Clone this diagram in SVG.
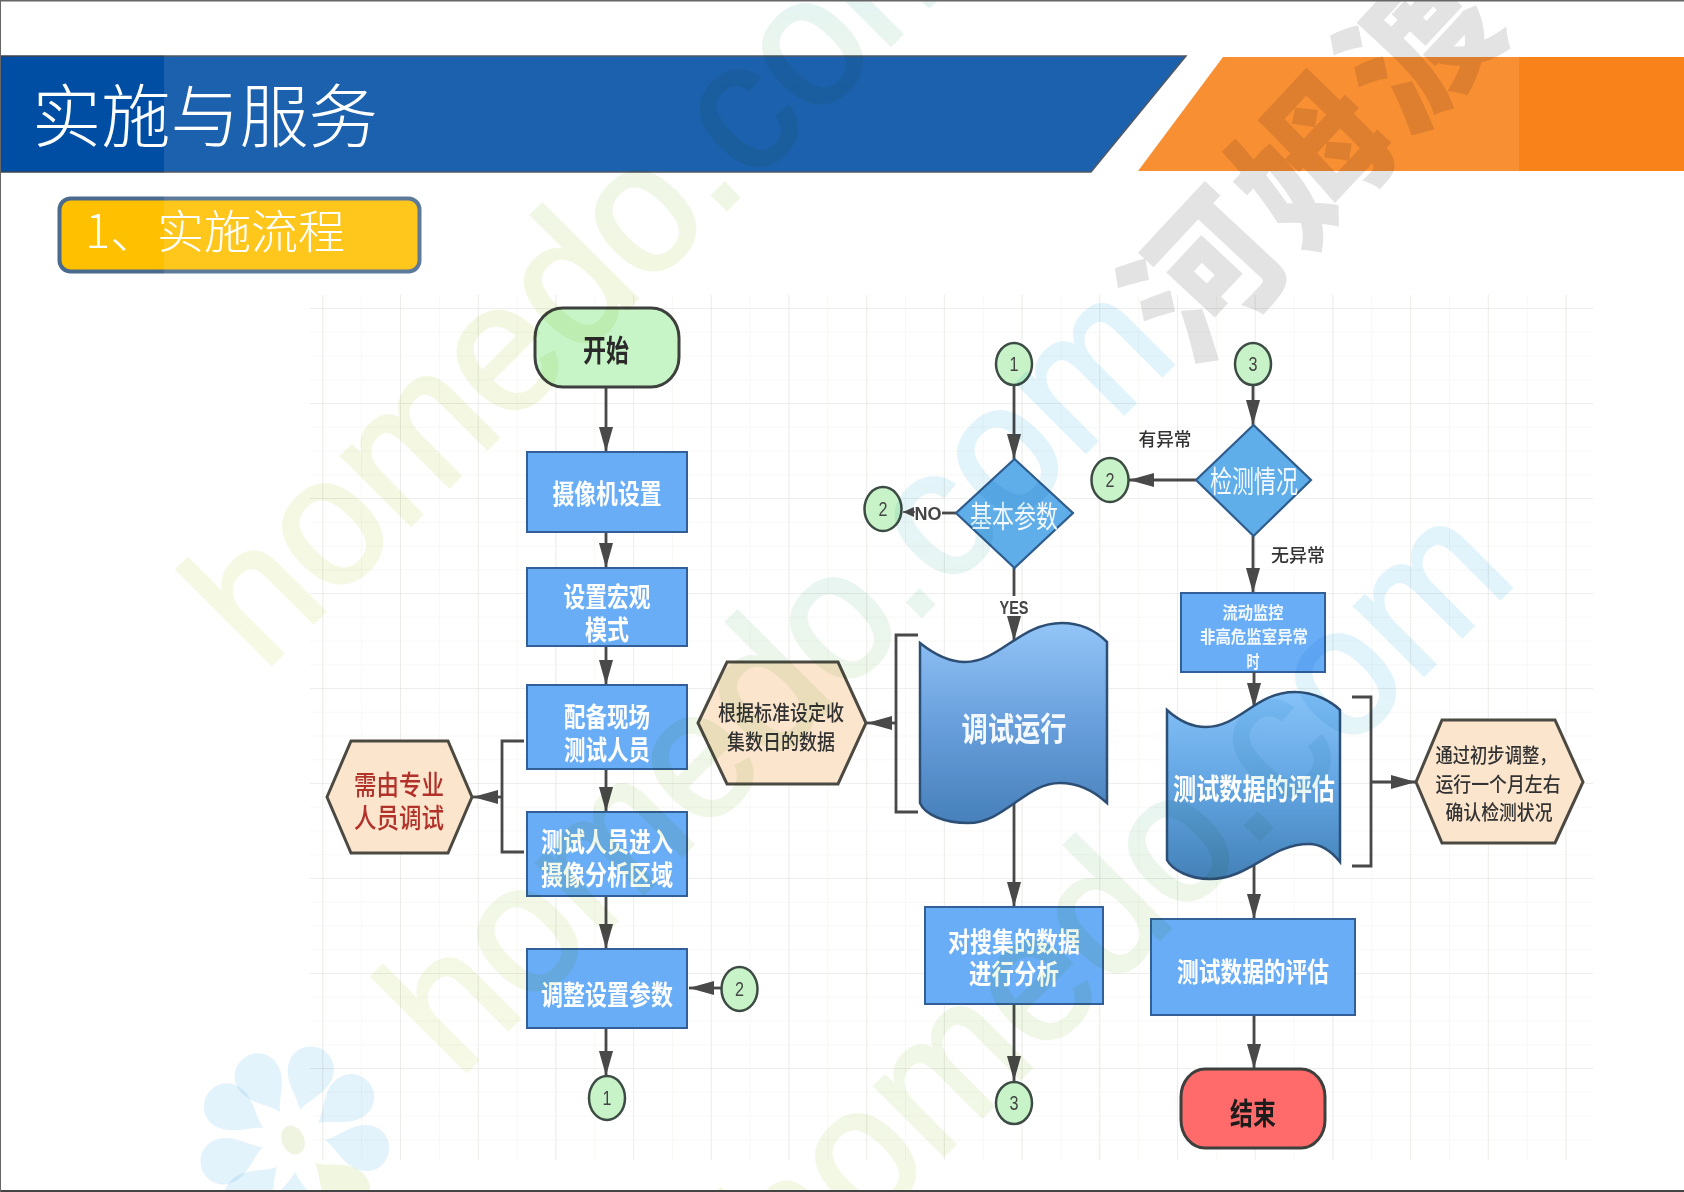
<svg xmlns="http://www.w3.org/2000/svg" width="1684" height="1192" viewBox="0 0 1684 1192">
<style>
text{font-family:"Noto Sans CJK SC","Noto Sans",sans-serif;text-anchor:middle}
.box{fill:#69adf6;stroke:#335f98;stroke-width:2}
.dia{fill:#5fade9;stroke:#2f5c8c;stroke-width:2.2}
.cir{fill:#c8f3c8;stroke:#3c4c44;stroke-width:2.5}
.hex{fill:#fbe5cd;stroke:#4c4a42;stroke-width:3}
.term{stroke:#3c403c;stroke-width:3}
.w{fill:#fff;font-weight:700;font-size:27px}
.wr{fill:#f4f9ff;font-weight:400;font-size:30px}
.d{fill:#333;font-weight:500;font-size:21px}
.b{fill:#2a2a2a;font-weight:700;font-size:30px}
.n{fill:#444;font-size:20px;font-family:"Liberation Sans",sans-serif}
.l{fill:#333;font-weight:500;font-size:18px}
.con{fill:none;stroke:#484848;stroke-width:2.8}
.arr{marker-end:url(#ah)}
.wm{font-family:"Liberation Sans",sans-serif;font-size:185px;text-anchor:start;stroke-width:3;mix-blend-mode:multiply}
.pt{fill:#e3f3fb;mix-blend-mode:multiply}
</style>
<defs>
<marker id="ah" markerUnits="userSpaceOnUse" markerWidth="26" markerHeight="16" refX="25" refY="8" orient="auto"><path d="M0 1 L25 8 L0 15 Z" fill="#484848"/></marker>
<marker id="ahs" markerUnits="userSpaceOnUse" markerWidth="12" markerHeight="10" refX="11" refY="5" orient="auto"><path d="M0 0 L11 5 L0 10 Z" fill="#484848"/></marker>
<linearGradient id="doc1" x1="0" y1="0" x2="0" y2="1"><stop offset="0" stop-color="#93c5f7"/><stop offset=".5" stop-color="#689fdc"/><stop offset="1" stop-color="#4780bb"/></linearGradient>
<linearGradient id="doc2" x1="0" y1="0" x2="0" y2="1"><stop offset="0" stop-color="#86c2f8"/><stop offset=".5" stop-color="#62a5e2"/><stop offset="1" stop-color="#4481b8"/></linearGradient>
<linearGradient id="wg1" gradientUnits="userSpaceOnUse" x1="263" y1="673" x2="985" y2="-50"><stop offset="0" stop-color="#f6f9e4"/><stop offset=".4" stop-color="#f2f7e2"/><stop offset=".62" stop-color="#e9f5ee"/><stop offset=".75" stop-color="#dcf4fd"/><stop offset="1" stop-color="#dcf4fd"/></linearGradient>
<linearGradient id="wg2" gradientUnits="userSpaceOnUse" x1="458" y1="1080" x2="1180" y2="358"><stop offset="0" stop-color="#f6f9e4"/><stop offset=".4" stop-color="#edf6e9"/><stop offset=".6" stop-color="#e2f4fb"/><stop offset="1" stop-color="#e0f3fb"/></linearGradient>
<linearGradient id="wg3" gradientUnits="userSpaceOnUse" x1="796" y1="1303" x2="1519" y2="580"><stop offset="0" stop-color="#f6f9e4"/><stop offset=".4" stop-color="#edf6e8"/><stop offset=".6" stop-color="#e2f4fb"/><stop offset="1" stop-color="#e0f3fb"/></linearGradient>
<pattern id="gm" patternUnits="userSpaceOnUse" x="322.3" y="308" width="77.7" height="95"><path d="M0 0V95M0 0H77.7" stroke="#e4e4e2" stroke-width="1.2" fill="none"/></pattern>
<pattern id="gs" patternUnits="userSpaceOnUse" x="322.3" y="308" width="38.85" height="23.75"><path d="M0 0V23.75M0 0H38.85" stroke="#f2f2f0" stroke-width="1" fill="none"/></pattern>
<filter id="soft" filterUnits="userSpaceOnUse" x="0" y="0" width="1684" height="1192"><feGaussianBlur stdDeviation="0.6"/></filter>
<path id="petal" d="M0 0C13 -6 24 -23 42 -23C56 -23 65 -12 65 0C65 12 56 23 42 23C24 23 13 6 0 0Z"/>
</defs>

<rect width="1684" height="1192" fill="#fff"/>

<g id="header">
<polygon points="0,56 1186,56 1091,172 0,172" fill="#004ea3" stroke="#3c4450" stroke-width="1.5"/>
<polygon points="1223,57 1684,57 1684,171 1138,171" fill="#f9821a"/>
</g>
<g id="section-box">
<rect x="59.500" y="198.500" width="360" height="73" rx="11" fill="#ffc000" stroke="#4a6a8e" stroke-width="4"/>
</g>
<rect id="band" x="164" y="50" width="1355" height="225" fill="#fff" opacity=".11"/>
<text x="205" y="142" font-size="69" font-weight="300" fill="#fff" textLength="346" lengthAdjust="spacingAndGlyphs">实施与服务</text>
<text x="215" y="248" font-size="46" font-weight="300" fill="#fff" textLength="260" lengthAdjust="spacingAndGlyphs">1、实施流程</text>

<g id="grid"><rect x="310" y="295" width="1283" height="865" fill="url(#gs)"/><rect x="310" y="295" width="1283" height="865" fill="url(#gm)"/></g>

<g filter="url(#soft)">
<g id="connectors">
<path class="con arr" d="M606 387V452"/>
<path class="con arr" d="M606 532V568"/>
<path class="con arr" d="M606 646V685"/>
<path class="con arr" d="M606 769V812"/>
<path class="con arr" d="M606 896V949"/>
<path class="con arr" d="M606 1028V1076"/>
<path class="con arr" d="M721 988H689"/>
<path class="con" d="M524 741H502V852H524"/>
<path class="con arr" d="M502 797H473"/>
<path class="con arr" d="M1014 385V459"/>
<path class="con" d="M956 513H942"/>
<path class="con" style="marker-end:url(#ahs);stroke-width:1.5" d="M915 512H903"/>
<path class="con" d="M1014 568V596"/>
<path class="con arr" d="M1014 618V641"/>
<path class="con" d="M918 635H896V812H918"/>
<path class="con arr" d="M896 723H867"/>
<path class="con arr" d="M1014 790V907"/>
<path class="con arr" d="M1014 1004V1081"/>
<path class="con arr" d="M1253 385V425"/>
<path class="con arr" d="M1196 480H1129"/>
<path class="con arr" d="M1253 536V593"/>
<path class="con arr" d="M1254 840V919"/>
<path class="con arr" d="M1254 1015V1069"/>
</g>

<g id="start"><rect class="term" x="535" y="308" width="144" height="79" rx="28" ry="30" fill="#c8f5c8"/><text class="b" x="606" y="361" textLength="46" lengthAdjust="spacingAndGlyphs">开始</text></g>
<g id="camera-setup"><rect class="box" x="527" y="452" width="160" height="80"/><text class="w" x="607" y="504" textLength="109" lengthAdjust="spacingAndGlyphs">摄像机设置</text></g>
<g id="macro-mode"><rect class="box" x="527" y="568" width="160" height="78"/><text class="w" x="607" y="607" textLength="87" lengthAdjust="spacingAndGlyphs">设置宏观</text><text class="w" x="607" y="640" textLength="44" lengthAdjust="spacingAndGlyphs">模式</text></g>
<g id="staff"><rect class="box" x="527" y="685" width="160" height="84"/><text class="w" x="607" y="727" textLength="86" lengthAdjust="spacingAndGlyphs">配备现场</text><text class="w" x="607" y="760" textLength="86" lengthAdjust="spacingAndGlyphs">测试人员</text></g>
<g id="staff-enter"><rect class="box" x="527" y="812" width="160" height="84"/><text class="w" x="607" y="852" textLength="132" lengthAdjust="spacingAndGlyphs">测试人员进入</text><text class="w" x="607" y="885" textLength="132" lengthAdjust="spacingAndGlyphs">摄像分析区域</text></g>
<g id="adjust"><rect class="box" x="527" y="949" width="160" height="79"/><text class="w" x="607" y="1005" textLength="132" lengthAdjust="spacingAndGlyphs">调整设置参数</text></g>
<g id="c1-a"><ellipse class="cir" cx="607" cy="1098" rx="18" ry="22"/><text class="n" x="607" y="1105" textLength="9" lengthAdjust="spacingAndGlyphs">1</text></g>
<g id="c2-a"><ellipse class="cir" cx="739.500" cy="989" rx="18" ry="22"/><text class="n" x="739.500" y="996" textLength="9" lengthAdjust="spacingAndGlyphs">2</text></g>
<g id="hex-pro"><polygon class="hex" points="327,797 351,741 448,741 472,797 448,853 351,853"/><text x="399" y="795" font-size="27" fill="#b2322c" font-weight="500" textLength="90" lengthAdjust="spacingAndGlyphs">需由专业</text><text x="399" y="828" font-size="27" fill="#b2322c" font-weight="500" textLength="90" lengthAdjust="spacingAndGlyphs">人员调试</text></g>
<g id="hex-data"><polygon class="hex" points="698,723 727,662 838,662 866,723 838,784 727,784"/><text class="d" x="781" y="720" textLength="126" lengthAdjust="spacingAndGlyphs">根据标准设定收</text><text class="d" x="781" y="749" textLength="108" lengthAdjust="spacingAndGlyphs">集数日的数据</text></g>

<g id="c1-b"><ellipse class="cir" cx="1014" cy="364" rx="18" ry="21"/><text class="n" x="1014" y="371" textLength="9" lengthAdjust="spacingAndGlyphs">1</text></g>
<g id="basic-param"><polygon class="dia" points="1014.500,459 1073,513 1014.500,568 956,513"/><text class="wr" x="1014" y="527" textLength="88" lengthAdjust="spacingAndGlyphs">基本参数</text></g>
<g id="c2-b"><ellipse class="cir" cx="883" cy="509" rx="18.500" ry="22"/><text class="n" x="883" y="516" textLength="9" lengthAdjust="spacingAndGlyphs">2</text></g>
<text x="928" y="520" font-size="18" font-weight="700" fill="#444" style="font-family:'Liberation Sans',sans-serif" textLength="27" lengthAdjust="spacingAndGlyphs">NO</text>
<text x="1014" y="614" font-size="19" font-weight="700" fill="#444" style="font-family:'Liberation Sans',sans-serif" textLength="29" lengthAdjust="spacingAndGlyphs">YES</text>
<g id="commission"><path d="M920 643C935 655 950 662 965 662C1000 662 1020 623 1062 623C1085 623 1100 635 1107 642V803C1095 792 1080 783 1060 783C1025 783 1005 823 968 823C945 823 925 815 920 803Z" fill="url(#doc1)" stroke="#2f4f74" stroke-width="2.5"/><text x="1014" y="741" font-size="33" font-weight="700" fill="#f4f9ff" textLength="105" lengthAdjust="spacingAndGlyphs">调试运行</text></g>
<g id="analyse"><rect class="box" x="925" y="907" width="178" height="97"/><text class="w" x="1014" y="952" textLength="132" lengthAdjust="spacingAndGlyphs">对搜集的数据</text><text class="w" x="1014" y="984" textLength="90" lengthAdjust="spacingAndGlyphs">进行分析</text></g>
<g id="c3-a"><ellipse class="cir" cx="1014" cy="1103" rx="18" ry="21"/><text class="n" x="1014" y="1110" textLength="9" lengthAdjust="spacingAndGlyphs">3</text></g>

<g id="c3-b"><ellipse class="cir" cx="1253" cy="364" rx="18" ry="21"/><text class="n" x="1253" y="371" textLength="9" lengthAdjust="spacingAndGlyphs">3</text></g>
<g id="inspect"><polygon class="dia" points="1253.500,425 1311,480 1253.500,536 1196,480"/><text class="wr" x="1254" y="492" textLength="88" lengthAdjust="spacingAndGlyphs">检测情况</text></g>
<g id="c2-c"><ellipse class="cir" cx="1110" cy="480" rx="18.500" ry="22"/><text class="n" x="1110" y="487" textLength="9" lengthAdjust="spacingAndGlyphs">2</text></g>
<text class="l" x="1165" y="446" textLength="53" lengthAdjust="spacingAndGlyphs">有异常</text>
<text class="l" x="1298" y="562" textLength="54" lengthAdjust="spacingAndGlyphs">无异常</text>
<g id="monitor"><rect class="box" x="1181" y="593" width="144" height="79"/><text x="1253" y="619" font-size="17" font-weight="700" fill="#f2f8ff" textLength="61" lengthAdjust="spacingAndGlyphs">流动监控</text><text x="1254" y="643" font-size="17" font-weight="700" fill="#f2f8ff" textLength="108" lengthAdjust="spacingAndGlyphs">非高危监室异常</text><text x="1253" y="668" font-size="17" font-weight="700" fill="#f2f8ff" textLength="13" lengthAdjust="spacingAndGlyphs">时</text></g>
<path class="con arr" d="M1254 672V708"/>
<g id="evaluate-doc"><path d="M1167 710C1178 720 1192 727 1206 727C1240 727 1255 692 1295 692C1315 692 1332 702 1340 710V862C1332 852 1322 844 1309 844C1270 844 1250 879 1210 879C1190 879 1172 870 1167 860Z" fill="url(#doc2)" stroke="#2f4f74" stroke-width="2.5"/><text class="w" x="1254" y="800" style="font-size:29px" textLength="162" lengthAdjust="spacingAndGlyphs">测试数据的评估</text></g>
<path class="con" d="M1352 697H1371V866H1352"/>
<path class="con arr" d="M1371 782H1416"/>
<g id="hex-month"><polygon class="hex" points="1416,782 1442,720 1555,720 1583,782 1555,843 1442,843"/><text class="d" x="1496" y="763" style="font-size:20px" textLength="121" lengthAdjust="spacingAndGlyphs">通过初步调整，</text><text class="d" x="1498" y="792" style="font-size:20px" textLength="125" lengthAdjust="spacingAndGlyphs">运行一个月左右</text><text class="d" x="1499" y="820" style="font-size:20px" textLength="107" lengthAdjust="spacingAndGlyphs">确认检测状况</text></g>
<g id="evaluate"><rect class="box" x="1151" y="919" width="204" height="96"/><text class="w" x="1253" y="982" textLength="152" lengthAdjust="spacingAndGlyphs">测试数据的评估</text></g>
<g id="end"><rect class="term" x="1181" y="1069" width="144" height="79" rx="24" ry="28" fill="#ff6b6b"/><text class="b" x="1253" y="1124" style="fill:#1c1c1c" textLength="46" lengthAdjust="spacingAndGlyphs">结束</text></g>
</g>

<g id="watermark">
<use href="#petal" class="pt" transform="translate(280 1112) rotate(-122)"/>
<use href="#petal" class="pt" transform="translate(300 1110) rotate(-75)"/>
<use href="#petal" class="pt" transform="translate(318 1123) rotate(-38)"/>
<use href="#petal" class="pt" transform="translate(325 1140) rotate(11)"/>
<use href="#petal" class="pt" transform="translate(263 1128) rotate(-149)"/>
<use href="#petal" class="pt" transform="translate(263 1147) rotate(160)"/>
<use href="#petal" class="pt" transform="translate(277 1167) rotate(135)"/>
<use href="#petal" class="pt" transform="translate(295 1172) rotate(92)"/>
<use href="#petal" style="fill:#f1f6e0;mix-blend-mode:multiply" transform="translate(315 1163) rotate(40)"/>
<ellipse cx="293" cy="1140" rx="11" ry="15" fill="#eef4e0" transform="rotate(-25 293 1140)"/>
<text class="wm" x="263" y="673" fill="url(#wg1)" stroke="url(#wg1)" transform="rotate(-45 263 673)" textLength="1023" lengthAdjust="spacingAndGlyphs">homedo.com</text>
<text class="wm" x="458" y="1080" fill="url(#wg2)" stroke="url(#wg2)" transform="rotate(-45 458 1080)" textLength="1023" lengthAdjust="spacingAndGlyphs">homedo.com</text>
<text class="wm" x="796" y="1303" fill="url(#wg3)" stroke="url(#wg3)" transform="rotate(-45 796 1303)" textLength="1023" lengthAdjust="spacingAndGlyphs">homedo.com</text>
<text x="1318" y="212" font-size="150" font-weight="900" fill="#e3e3e3" letter-spacing="8" style="mix-blend-mode:multiply" transform="rotate(-47 1318 162)">河姆渡</text>
</g>

<g id="frame">
<rect x="0" y="1190" width="1684" height="2" fill="#444"/>
<rect x="0" y="0" width="1684" height="1.500" fill="#666"/>
<rect x="0" y="0" width="1" height="1192" fill="#666"/>
</g>
</svg>
